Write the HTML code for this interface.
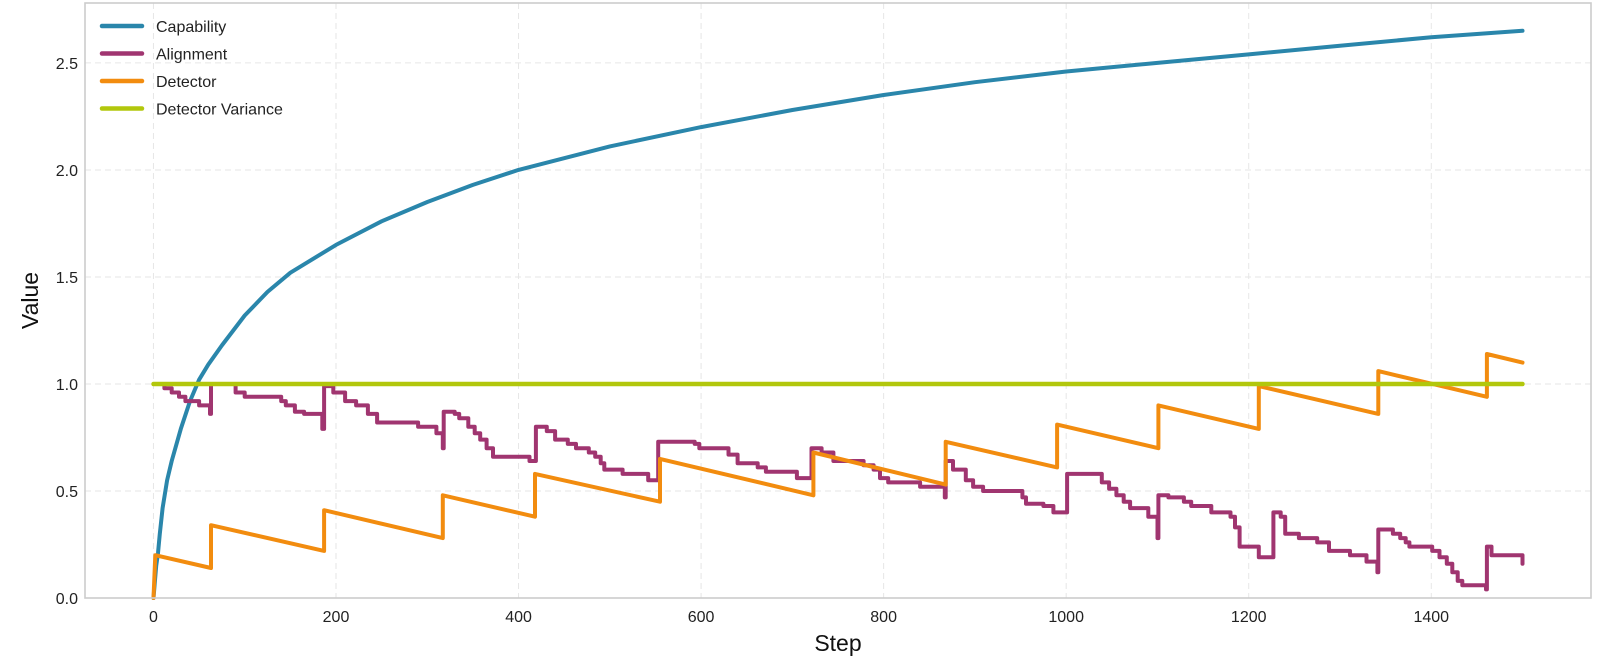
<!DOCTYPE html>
<html><head><meta charset="utf-8"><style>
html,body{margin:0;padding:0;background:#fff;}
svg{display:block;font-family:"Liberation Sans",Arial,sans-serif;}
</style></head><body>
<svg id="chart" width="1600" height="664"></svg>
<script>
const capSteps=[0,1,2,3,5,7,10,15,20,30,40,50,60,75,100,125,150,200,250,300,350,400,500,600,700,800,900,1000,1100,1200,1300,1400,1500];
const capVals=[0,0.05,0.1,0.15,0.21,0.3,0.42,0.55,0.64,0.79,0.92,1.02,1.09,1.18,1.32,1.43,1.52,1.65,1.76,1.85,1.93,2.0,2.11,2.2,2.28,2.35,2.41,2.46,2.5,2.54,2.58,2.62,2.65];
const detSteps=[0,2,63,63,187,187,317,317,418,418,555,555,723,723,868,868,990,990,1101,1101,1211,1211,1342,1342,1461,1461,1500];
const detVals=[0,0.2,0.14,0.34,0.22,0.41,0.28,0.48,0.38,0.58,0.45,0.65,0.48,0.68,0.53,0.73,0.61,0.81,0.70,0.90,0.79,0.99,0.86,1.06,0.94,1.14,1.10];
const aliSteps=[5,12,20,28,35,41,50,62,63,81,90,100,140,145,155,165,185,187,197,210,222,235,245,290,310,317,318,330,335,345,352,358,365,372,412,419,431,440,454,463,477,484,490,494,514,542,553,593,598,630,640,662,671,705,721,732,745,778,789,796,805,840,867,868,876,890,898,909,952,956,975,986,1001,1039,1047,1055,1063,1070,1090,1100,1101,1112,1129,1137,1159,1180,1185,1190,1211,1227,1235,1240,1255,1275,1288,1311,1329,1341,1342,1358,1366,1372,1376,1401,1409,1417,1423,1429,1434,1460,1461,1466,1497,1500];
const aliVals=[1.0,0.98,0.96,0.94,0.92,0.92,0.90,0.86,1.0,1.0,0.96,0.94,0.92,0.90,0.87,0.86,0.79,0.99,0.96,0.92,0.90,0.86,0.82,0.80,0.77,0.70,0.87,0.86,0.84,0.80,0.77,0.74,0.70,0.66,0.64,0.80,0.78,0.74,0.72,0.70,0.68,0.66,0.63,0.60,0.58,0.55,0.73,0.72,0.70,0.67,0.63,0.61,0.59,0.56,0.70,0.68,0.64,0.62,0.60,0.56,0.54,0.52,0.47,0.64,0.60,0.55,0.52,0.50,0.47,0.44,0.43,0.40,0.58,0.54,0.51,0.48,0.45,0.42,0.38,0.28,0.48,0.47,0.45,0.43,0.40,0.38,0.33,0.24,0.19,0.40,0.38,0.30,0.28,0.26,0.22,0.20,0.17,0.12,0.32,0.30,0.28,0.26,0.24,0.22,0.19,0.16,0.12,0.08,0.06,0.04,0.24,0.20,0.20,0.16];
const varSteps=[0,1500];
const varVals=[1.0,1.0];
const xTicks=[0,200,400,600,800,1000,1200,1400];
const yTicks=[0.0,0.5,1.0,1.5,2.0,2.5];
const seriesNames=["Capability","Alignment","Detector","Detector Variance"];

const L=85,R=1591,T=3,B=598,X0=-75,X1=1575,Y0=0,Y1=2.78;
const NS="http://www.w3.org/2000/svg";
const svg=document.getElementById('chart');
function sx(s){return L+(s-X0)/(X1-X0)*(R-L);}
function sy(v){return B-(v-Y0)/(Y1-Y0)*(B-T);}
function mk(tag,attrs,parent){const e=document.createElementNS(NS,tag);for(const k in attrs)e.setAttribute(k,attrs[k]);(parent||svg).appendChild(e);return e;}

const grid=mk('g',{});


xTicks.forEach(t=>{const l=mk('line',{x1:sx(t),x2:sx(t),y1:T,y2:B,stroke:'#e6e6e6','stroke-width':1,'stroke-dasharray':'6,4'},grid);

});
yTicks.forEach(t=>{const l=mk('line',{x1:L,x2:R,y1:sy(t),y2:sy(t),stroke:'#e6e6e6','stroke-width':1,'stroke-dasharray':'6,4'},grid);

});

function series(xs,ys,color,name,w,stepped){
  let d='';
  xs.forEach((s,i)=>{
    if(i===0){d+='M'+sx(s).toFixed(1)+','+sy(ys[i]).toFixed(1);return;}
    if(stepped){d+='L'+sx(s).toFixed(1)+','+sy(ys[i-1]).toFixed(1);}
    d+='L'+sx(s).toFixed(1)+','+sy(ys[i]).toFixed(1);
  });
  const p=mk('path',{d:d,fill:'none',stroke:color,'stroke-width':w,'stroke-linejoin':'round','stroke-linecap':'round'});
  
  
}
series(capSteps,capVals,'#2a86ab','capability-line',4,false);
series(aliSteps,aliVals,'#a03570','alignment-line',4,true);
series(detSteps,detVals,'#f28c0f','detector-line',4,false);
series(varSteps,varVals,'#b2c70c','detector-variance-line',4.5,false);

const frame=mk('rect',{x:L,y:T,width:R-L,height:B-T,fill:'none',stroke:'#cccccc','stroke-width':1.6});



xTicks.forEach(t=>{const e=mk('text',{x:sx(t),y:B+24,'text-anchor':'middle','font-size':16,fill:'#222'});e.textContent=String(t);

});
yTicks.forEach(t=>{const e=mk('text',{x:L-7,y:sy(t)+6,'text-anchor':'end','font-size':16,fill:'#222'});e.textContent=t.toFixed(1);

});

const xt=mk('text',{x:(L+R)/2,y:651,'text-anchor':'middle','font-size':23,fill:'#111'});xt.textContent='Step';


const yt=mk('text',{x:38,y:(T+B)/2,'text-anchor':'middle','font-size':23,fill:'#111',transform:'rotate(-90 38 '+((T+B)/2)+')'});yt.textContent='Value';



const colors=['#2a86ab','#a03570','#f28c0f','#b2c70c'];
const leg=mk('g',{});


seriesNames.forEach((n,i)=>{
  const y=26+i*27.5;
  const g=mk('g',{},leg);
  
  
  mk('line',{x1:102,x2:142,y1:y,y2:y,stroke:colors[i],'stroke-width':4.5,'stroke-linecap':'round'},g);
  const t=mk('text',{x:156,y:y+6,'font-size':16,fill:'#222'},g);t.textContent=n;
});
</script>
</body></html>
